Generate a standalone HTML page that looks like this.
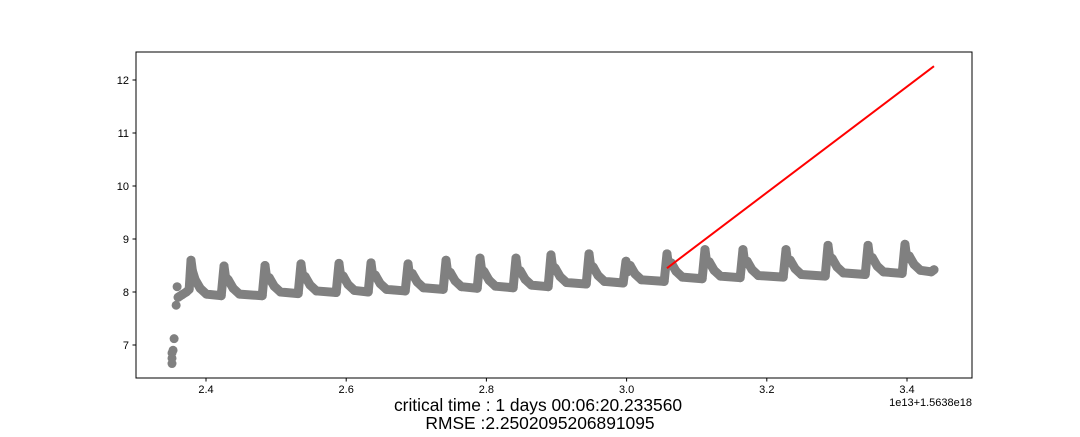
<!DOCTYPE html>
<html><head><meta charset="utf-8"><style>
body{margin:0;background:#fff;font-family:"Liberation Sans","DejaVu Sans",sans-serif}
</style></head><body>
<svg id="chart" width="1080" height="432" xmlns="http://www.w3.org/2000/svg" font-family="Liberation Sans, DejaVu Sans, sans-serif">
<rect width="1080" height="432" fill="#fff"/>
<g id="marks"></g>
<rect x="136" y="52" width="836" height="326" fill="none" stroke="#000" stroke-width="1"/>
<g id="axes" font-size="11" fill="#000"></g>
<text x="972" y="406" text-anchor="end" font-size="11">1e13+1.5638e18</text>
<text x="538" y="411" text-anchor="middle" font-size="17.4">critical time : 1 days 00:06:20.233560</text>
<text x="540" y="429" text-anchor="middle" font-size="17.4">RMSE :2.2502095206891095</text>
</svg>
<script>
const xTicks=[2.4,2.6,2.8,3.0,3.2,3.4];
const xTickLabels=["2.4","2.6","2.8","3.0","3.2","3.4"];
const yTicks=[7,8,9,10,11,12];
const startX=[2.3515,2.3515,2.3515,2.353,2.3545,2.3574,2.3588,2.3602,2.366,2.372,2.376];
const startY=[6.65,6.75,6.85,6.9,7.12,7.75,8.1,7.9,7.95,8.0,8.05];
const peakX=[2.3786,2.4257,2.4842,2.5355,2.5897,2.6354,2.6882,2.7424,2.7909,2.8422,2.8921,2.9464,2.9991,3.0576,3.1118,3.1660,3.2274,3.2873,3.3444,3.3971];
const peakY=[8.6,8.49,8.5,8.53,8.54,8.55,8.53,8.6,8.64,8.64,8.7,8.72,8.58,8.72,8.8,8.8,8.8,8.88,8.88,8.9];
const baseY=[7.93,7.93,7.97,7.99,8.0,8.02,8.05,8.07,8.08,8.1,8.15,8.17,8.2,8.25,8.27,8.28,8.3,8.33,8.35,8.38];
const endX=3.4385, endY=8.42;
const fitX=[3.0576,3.4385];
const fitY=[8.45,12.26];

const X=v=>206+(v-2.4)/0.2*140.2;
const Y=v=>292-(v-8)*53;
const NS="http://www.w3.org/2000/svg";
const marks=document.getElementById('marks');
const axes=document.getElementById('axes');
function mk(t,a,p){const e=document.createElementNS(NS,t);for(const k in a)e.setAttribute(k,a[k]);p.appendChild(e);return e;}
const pts=[];
for(let i=0;i<startX.length;i++)pts.push([startX[i],startY[i]]);
for(let i=0;i<peakX.length;i++){
  const nx=i+1<peakX.length?peakX[i+1]:endX;
  const p=peakY[i],b=baseY[i];
  pts.push([peakX[i],p]);
  pts.push([peakX[i]+0.002,p-0.2]);
  pts.push([peakX[i]+0.006,b+0.3]);
  pts.push([peakX[i]+0.013,b+0.14]);
  pts.push([peakX[i]+0.022,b+0.03]);
  pts.push([nx-0.004,b]);
}
pts.push([endX,endY]);
const main=pts.slice(startX.length-4);
const pl=mk('polyline',{points:main.map(p=>X(p[0])+','+Y(p[1])).join(' '),fill:'none',stroke:'#808080','stroke-width':9,'stroke-linecap':'round','stroke-linejoin':'round'},marks);


pts.forEach(p=>{
  const c=mk('circle',{cx:X(p[0]),cy:Y(p[1]),r:4.5,fill:'#808080'},marks);
  
  
});
const fl=mk('line',{x1:X(fitX[0]),y1:Y(fitY[0]),x2:X(fitX[1]),y2:Y(fitY[1]),stroke:'#ff0000','stroke-width':2},marks);


xTicks.forEach((v,i)=>{
  const l=mk('line',{x1:X(v),x2:X(v),y1:378,y2:381.5,stroke:'#000'},axes);
  
  
  const t=mk('text',{x:X(v),y:393,'text-anchor':'middle'},axes);t.textContent=xTickLabels[i];
  
  
});
yTicks.forEach(v=>{
  const l=mk('line',{x1:132.5,x2:136,y1:Y(v),y2:Y(v),stroke:'#000'},axes);
  
  
  const t=mk('text',{x:129,y:Y(v)+4,'text-anchor':'end'},axes);t.textContent=String(v);
  
  
});
</script>
</body></html>
